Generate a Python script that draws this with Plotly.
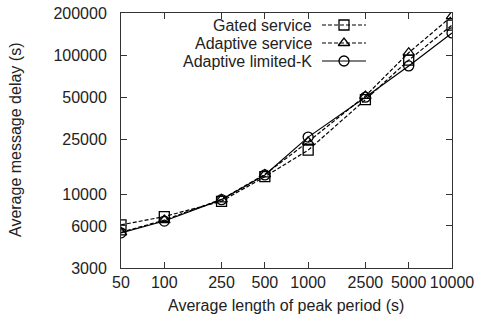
import plotly.graph_objects as go

periods = [50, 100, 250, 500, 1000, 2500, 5000, 10000]
gated = [6100, 7000, 9000, 13500, 20900, 48000, 92000, 164000]
adaptive = [5400, 6600, 9300, 14000, 24000, 51000, 104000, 190000]
limited = [5350, 6500, 9250, 13900, 25900, 50000, 83600, 144000]
names = ["Gated service", "Adaptive service", "Adaptive limited-K"]
symbols = ["square-open", "triangle-up-open", "circle-open"]
dashes = ["dash", "dash", "solid"]
x_ticks = [50, 100, 250, 500, 1000, 2500, 5000, 10000]
y_ticks = [3000, 6000, 10000, 25000, 50000, 100000, 200000]

FONT = "Liberation Sans, Arial, sans-serif"
FS = 16
W, H = 481, 321
L, R, T, B = 121, 452, 13, 268
fig = go.Figure()
for name, ys, sym, dash in zip(names, [gated, adaptive, limited], symbols, dashes):
    fig.add_trace(go.Scatter(
        x=periods, y=ys, mode="lines+markers", name=name, showlegend=False,
        line=dict(color="black", width=1.2, dash="4px,2px" if dash == "dash" else "solid"),
        marker=dict(symbol=sym, size=10, color="black", line=dict(width=1.3, color="black")),
    ))

# legend samples (gnuplot style: text left, sample right) on a helper axis in pixel units
leg_y = [25, 43, 61]
for name, sym, dash, ly in zip(names, symbols, dashes, leg_y):
    fig.add_trace(go.Scatter(
        x=[322, 366], y=[ly, ly], mode="lines", xaxis="x2", yaxis="y2", showlegend=False,
        line=dict(color="black", width=1.2, dash="4px,2px" if dash == "dash" else "solid"),
    ))
    fig.add_trace(go.Scatter(
        x=[344], y=[ly], mode="markers", xaxis="x2", yaxis="y2", showlegend=False,
        marker=dict(symbol=sym, size=10, color="black", line=dict(width=1.3, color="black")),
    ))
    fig.add_annotation(x=314, y=ly, xref="x2", yref="y2", text=name, showarrow=False,
                       xanchor="right", yanchor="middle",
                       font=dict(family=FONT, size=FS, color="#222"))


def px(x):
    return (x - L) / (R - L)


def py(y):
    return (B - y) / (B - T)


fig.add_annotation(x=px(286), y=py(305), xref="paper", yref="paper",
                   text="Average length of peak period (s)",
                   showarrow=False, xanchor="center", yanchor="middle",
                   font=dict(family=FONT, size=FS, color="#222"))
fig.add_annotation(x=px(15), y=py(140), xref="paper", yref="paper",
                   text="Average message delay (s)",
                   showarrow=False, xanchor="center", yanchor="middle", textangle=-90,
                   font=dict(family=FONT, size=FS, color="#222"))

axis_common = dict(
    showgrid=False, zeroline=False, showline=True, linecolor="#333", linewidth=1,
    mirror="ticks", ticks="inside", ticklen=6, tickcolor="#333", tickwidth=1,
    tickfont=dict(family=FONT, size=FS, color="#222"), automargin=False,
)
fig.update_layout(
    width=W, height=H,
    margin=dict(l=L, r=W - R, t=T, b=H - B),
    paper_bgcolor="white", plot_bgcolor="white",
    xaxis=dict(type="log", range=[1.69897, 4.0], tickvals=x_ticks,
               ticktext=[str(v) for v in x_ticks], ticklabelstandoff=0,
               **axis_common),
    yaxis=dict(type="log", range=[3.4771, 5.30103], tickvals=y_ticks,
               ticktext=[str(v) for v in y_ticks], ticklabelstandoff=10,
               **axis_common),
    xaxis2=dict(overlaying="x", range=[L, R], visible=False, fixedrange=True),
    yaxis2=dict(overlaying="y", range=[B, T], visible=False, fixedrange=True),
)
fig.write_html("out.html", config={"displayModeBar": False},
               post_script="document.body.style.margin='0';document.body.style.overflow='hidden';")
